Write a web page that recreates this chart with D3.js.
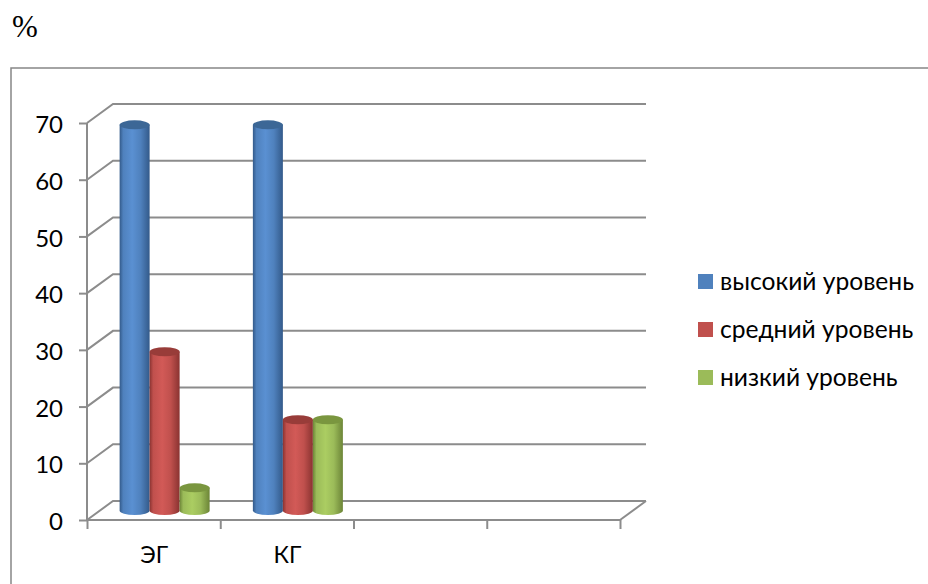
<!DOCTYPE html>
<html>
<head>
<meta charset="utf-8">
<script src="https://cdn.jsdelivr.net/npm/d3@7/dist/d3.min.js"></script>
<style>
html,body{margin:0;padding:0;background:#fff}
svg{display:block}
text{font-family:Lato,"Noto Sans",sans-serif;fill:#000}
</style>
</head>
<body>
<svg id="chart" width="928" height="584"></svg>
<script>
// Survey levels by group, in percent
const categories = ["ЭГ", "КГ", "", ""];
const seriesNames = ["высокий уровень", "средний уровень", "низкий уровень"];
const highLevel = [68, 68];
const midLevel = [28, 16];
const lowLevel = [4, 16];
const yTicks = [0, 10, 20, 30, 40, 50, 60, 70];

const seriesValues = [highLevel, midLevel, lowLevel];
const baseColors = ["#4f81bd", "#c0504d", "#9bbb59"];
const edgeColors = ["#335a8a", "#8a3331", "#6c8537"];
const lightColors = ["#5a90d2", "#d25a57", "#abcd62"];
const capColors = ["#3c6796", "#983c39", "#7a963f"];

const svg = d3.select("#chart");
const axisColor = "#8c8c8c";

// Pseudo-3D box: the back wall sits up and to the right of the front axes
const depth = {dx: 26, dy: -19};
const x = d3.scaleBand().domain(d3.range(categories.length)).range([87, 620]);
const y = d3.scaleLinear().domain([0, 70]).range([520, 123]);
const barWidth = 30;
const barX = d3.scaleBand().domain(d3.range(seriesNames.length)).range([0, barWidth * seriesNames.length]);

// Outer frame of the chart object
svg.append("path")
  .attr("d", "M11,584V68H928")
  .attr("fill", "none").attr("stroke", "#868686").attr("stroke-width", 1.5);

// Percent sign above the frame
svg.append("text").attr("x", 12).attr("y", 37)
  .style("font-family", '"Liberation Serif",serif').style("font-size", "31px").text("%");

// Gridlines on the back wall and the side-wall diagonals
const grid = svg.append("g").attr("fill", "none").attr("stroke", axisColor).attr("stroke-width", 2);
yTicks.forEach(t => {
  grid.append("path").attr("d", d3.line()([
    [x.range()[0], y(t)],
    [x.range()[0] + depth.dx, y(t) + depth.dy],
    [x.range()[1] + depth.dx, y(t) + depth.dy]
  ]));
});
// Front edge of the floor and its right-hand diagonal
grid.append("path").attr("d", d3.line()([
  [x.range()[1] + depth.dx, y(0) + depth.dy],
  [x.range()[1], y(0)]
]));

// Value axis
const yAxis = svg.append("g").attr("transform", `translate(${x.range()[0]},0)`)
  .call(d3.axisLeft(y).tickValues(yTicks).tickSize(8).tickPadding(16));
yAxis.selectAll("path,line").attr("stroke", axisColor).attr("stroke-width", 2);
yAxis.select(".domain").attr("d", `M0,${y(70)}V${y(0)}`);
yAxis.selectAll("text").attr("dy", "0.4em").style("font-size", "24px").style("font-family", "Lato,sans-serif").attr("fill", "#000");

// Category axis with ticks on the slot boundaries
const xAxis = svg.append("g").attr("transform", `translate(0,${y(0)})`)
  .call(d3.axisBottom(d3.scalePoint().domain(d3.range(categories.length + 1)).range(x.range())).tickSize(9).tickFormat(""));
xAxis.selectAll("path,line").attr("stroke", axisColor).attr("stroke-width", 2);
xAxis.select(".domain").attr("d", `M${x.range()[0]},0H${x.range()[1]}`);

svg.append("g").selectAll("text").data(categories).join("text")
  .attr("x", (d, i) => x(i) + x.bandwidth() / 2 + 0.5)
  .attr("y", 563).attr("text-anchor", "middle")
  .style("font-size", "23px").text(d => d);

// Horizontal shading that gives the bars their cylinder look
const defs = svg.append("defs");
seriesNames.forEach((n, i) => {
  const g = defs.append("linearGradient").attr("id", `cyl${i}`);
  g.append("stop").attr("offset", "0%").attr("stop-color", edgeColors[i]);
  g.append("stop").attr("offset", "12%").attr("stop-color", baseColors[i]);
  g.append("stop").attr("offset", "42%").attr("stop-color", lightColors[i]);
  g.append("stop").attr("offset", "70%").attr("stop-color", baseColors[i]);
  g.append("stop").attr("offset", "100%").attr("stop-color", edgeColors[i]);
});

// Cylinders stand halfway into the box
const groupShift = 11;
const floorShift = depth.dy / 2;
const ry = 4.5;
const bars = svg.append("g");
categories.slice(0, highLevel.length).forEach((c, ci) => {
  const left = x(ci) + (x.bandwidth() - barWidth * seriesNames.length) / 2 + groupShift;
  seriesValues.forEach((vals, si) => {
    const v = vals[ci];
    const x0 = left + barX(si);
    const rx = barWidth / 2;
    const top = y(v) + floorShift;
    const bottom = y(0) + floorShift;
    bars.append("path")
      .attr("d", `M${x0},${top}V${bottom}A${rx},${ry} 0 0 0 ${x0 + barWidth},${bottom}V${top}Z`)
      .attr("fill", `url(#cyl${si})`);
    bars.append("ellipse")
      .attr("cx", x0 + rx).attr("cy", top).attr("rx", rx).attr("ry", ry)
      .attr("fill", capColors[si]);
  });
});

// Legend
const legend = svg.append("g").selectAll("g").data(seriesNames).join("g")
  .attr("transform", (d, i) => `translate(698,${274 + i * 48})`);
legend.append("rect").attr("width", 15).attr("height", 15).attr("fill", (d, i) => baseColors[i]);
legend.append("text").attr("x", 22).attr("y", 16)
  .style("font-size", "24.6px").text(d => d);
</script>
</body>
</html>
